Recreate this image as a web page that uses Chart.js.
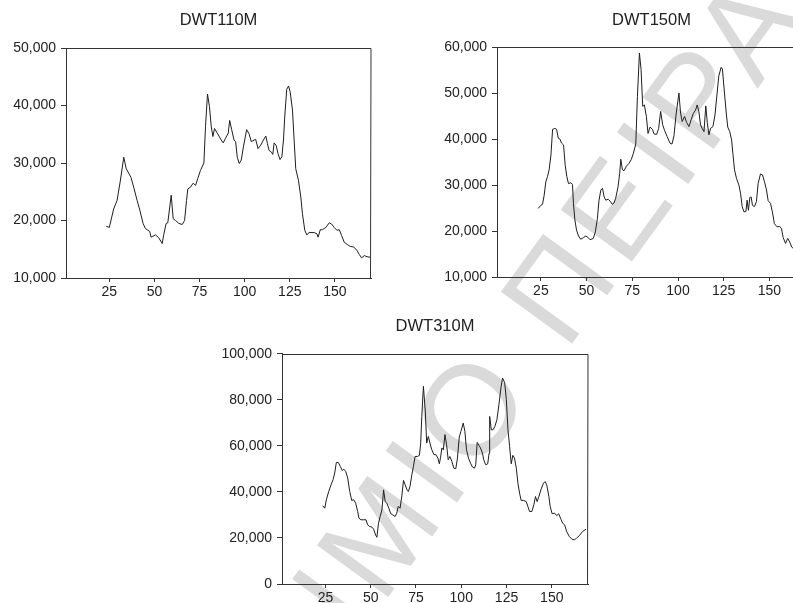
<!DOCTYPE html>
<html>
<head>
<meta charset="utf-8">
<script src="https://cdn.jsdelivr.net/npm/chart.js@4.4.1/dist/chart.umd.min.js"></script>
<style>
  html, body { margin: 0; padding: 0; background: #fff; }
  body { width: 793px; height: 603px; position: relative; overflow: hidden; }
  canvas { position: absolute; }
  #c1 { left: 0; top: 0; }
  #c2 { left: 400px; top: 0; }
  #c3 { left: 200px; top: 300px; }
  #wm { position: absolute; left: 472px; top: 405px; width: 0; height: 0; transform: rotate(-54deg); }
  #wmText { position: absolute; white-space: nowrap; font-family: 'Liberation Sans', Arial, sans-serif;
            font-size: 128px; letter-spacing: 9px; line-height: 1; color: #dadada; top: -63px; }
</style>
</head>
<body>
<div id="wm"><div id="wmText"><span id="wmPre">ΠΑΝΕΠΙΣΤΗΜΙ</span><span id="wmO">Ο</span> ΠΕΙΡΑΙΩΣ</div></div>
<canvas id="c1" width="400" height="300"></canvas>
<canvas id="c2" width="420" height="300"></canvas>
<canvas id="c3" width="400" height="303"></canvas>
<script>
// observation index ticks shared by all three panels
const xTicks = [25, 50, 75, 100, 125, 150];

// DWT110M
const obs110 = [23.3, 25, 27.4, 29.3, 31, 33, 34.4, 37, 38.5, 40.4, 41.9, 43.7, 45, 47.4, 48.1, 50.6, 52.4, 54.3, 55.2, 56.5,
  57.4, 59.3, 60.4, 61.7, 63.5, 65.4, 66.7, 67.8, 68.5, 70, 71.5, 72.8, 74, 75.5, 77.4, 78.3, 79.4, 80.5, 81.5, 82.4,
  83.3, 84.8, 87, 88.1, 89.4, 90.9, 91.7, 92.8, 94.1, 95, 95.9, 97, 98.1, 99.3, 101.1, 102.4, 103.7, 105.2, 106.1, 107.4,
  108.9, 110.4, 111.7, 112.6, 113.5, 114.8, 115.6, 116.3, 117.4, 118.5, 119.6, 120.6, 121.5, 122.2, 123.3, 124.3, 125.2, 126.5, 127.4, 128.3,
  129.8, 131.1, 132, 133.3, 134.4, 135.7, 138.5, 140, 140.7, 141.9, 143.1, 145, 146.9, 148.1, 149.6, 151.1, 152.4, 153.7, 155.2, 157,
  158.5, 160.4, 162.2, 163.5, 164.8, 166.3, 167.8, 169.6];
const dwt110 = [19000, 18800, 22000, 23500, 26700, 31000, 29000, 27500, 25800, 23500, 21800, 19500, 18600, 18100, 17100, 17500, 17000, 16000, 17600, 19500,
  19600, 24400, 20300, 20000, 19500, 19300, 20000, 23500, 25500, 25800, 26500, 26100, 27300, 28700, 30000, 36300, 42000, 39800, 36300, 34600,
  36000, 35200, 34000, 33500, 34300, 35200, 37400, 35800, 34000, 33700, 31000, 29900, 30500, 32800, 35800, 35100, 33700, 34000, 34100, 32500,
  33100, 34000, 34700, 33400, 32200, 31900, 31500, 33500, 33100, 31600, 30600, 31100, 34000, 38000, 42800, 43400, 42400, 39200, 34000, 29000,
  27000, 24100, 21200, 18300, 17500, 17900, 17900, 17700, 17100, 18400, 18400, 18800, 19600, 19400, 18800, 18300, 18400, 17400, 16200, 15800,
  15500, 15400, 14800, 14100, 13500, 13900, 13700, 13600];
const yTicks110 = [10000, 20000, 30000, 40000, 50000];

// DWT150M
const obs150 = [23.5, 25, 25.9, 26.8, 27.7, 28.6, 29.5, 30.5, 31.4, 32.6, 33.6, 34.5, 35.4, 36.3, 37.4, 38.3, 39.2, 40.1, 41.4, 42.3,
  42.8, 43.6, 44.5, 45.6, 46.8, 48.3, 49.6, 50.8, 51.9, 53.7, 54.8, 55.9, 56.8, 57.8, 58.7, 59.6, 60.5, 61.8, 62.8, 64.1,
  65, 65.9, 67.2, 68.1, 68.7, 69.6, 70.5, 71.8, 73.2, 74.5, 75.6, 76.9, 77.8, 78.9, 79.8, 80.7, 81.6, 82.7, 83.6, 84.7,
  86, 86.9, 88.3, 89.4, 90.5, 91.6, 92.7, 94.1, 95.6, 96.7, 97.8, 98.9, 100.5, 101.4, 102.3, 103.6, 104.7, 106, 107.2, 108.3,
  109.6, 110.5, 111.4, 112.3, 113.2, 114.2, 115.2, 116, 116.9, 117.8, 119.1, 120.2, 121.4, 122.3, 123.6, 124.3, 125.4, 126.5, 127.2, 128.3,
  129.3, 130, 130.9, 132, 133.3, 134.2, 135.1, 136, 137.1, 137.8, 138.5, 139.3, 140, 140.7, 141.8, 142.9, 143.8, 145.1, 146.2, 147.3,
  148.4, 149.3, 150.6, 151.6, 152.7, 154.2, 155.6, 156.6, 157.5, 158.8, 160, 161.1, 162.2, 163.1];
const dwt150 = [24900, 25600, 25800, 27800, 30700, 31800, 33300, 36500, 42100, 42300, 42100, 40200, 40000, 39100, 38700, 34300, 31800, 30300, 30500, 30100,
  26000, 22400, 20200, 18900, 18200, 18600, 18900, 18600, 18100, 18400, 19800, 22700, 26700, 28900, 29300, 27400, 26700, 26900, 26500, 25800,
  26100, 27100, 29600, 32500, 35600, 33300, 33100, 34100, 34700, 35600, 36900, 38900, 49200, 58700, 55100, 47100, 47400, 44900, 41200, 42600,
  42100, 41100, 41000, 42300, 46000, 43100, 41800, 40500, 39100, 38900, 40700, 45200, 50000, 45600, 43800, 44900, 43600, 42700, 44200, 45500,
  46300, 47400, 46000, 43100, 42300, 41600, 47200, 43600, 40900, 42300, 42700, 45200, 50000, 53700, 55600, 55200, 50000, 45200, 42600, 41600,
  39800, 36900, 33300, 31400, 30000, 28200, 25300, 24200, 24200, 26700, 24500, 27300, 27400, 25600, 25300, 26400, 30300, 32400, 32200, 30700,
  28900, 26600, 26000, 24200, 21600, 20900, 21000, 20500, 18600, 17300, 18400, 17600, 16500, 16200];
const yTicks150 = [10000, 20000, 30000, 40000, 50000, 60000];

// DWT310M
const obs310 = [23.5, 24.6, 25.5, 26.8, 28.1, 29.2, 30.1, 31, 32.1, 33.2, 34.3, 35.1, 36.2, 37.3, 38.4, 39.5, 40.6, 41.7, 42.8, 43.5,
  44.6, 46.1, 47.4, 48.3, 49.4, 50.7, 51.6, 52.7, 53.4, 54.3, 55.2, 56.2, 57.1, 58, 58.9, 60, 61.1, 62.2, 63.5, 64.4,
  65.2, 66.2, 67.2, 68.1, 69, 69.9, 70.8, 71.7, 72.7, 73.6, 74.5, 75.8, 76.9, 77.6, 78.2, 79.1, 80.2, 80.9, 81.8, 82.7,
  83.6, 84.9, 86, 87.1, 87.9, 88.6, 89.3, 90.1, 91, 91.9, 92.8, 93.7, 94.8, 95.9, 97, 97.9, 98.9, 99.8, 101.1, 102,
  102.9, 104, 105.1, 106.2, 107.3, 108, 108.8, 109.9, 110.6, 111.7, 112.4, 113.5, 114.6, 115.4, 115.7, 116.6, 117.6, 118.6, 119.7, 120.8,
  121.9, 122.8, 124, 124.9, 125.8, 126.7, 127.6, 128.5, 129.4, 130.4, 131.3, 132.2, 133.1, 134.4, 135.9, 136.8, 137.7, 139, 140.1, 141,
  141.9, 142.9, 144.1, 145.4, 146.3, 147.2, 148.4, 149.1, 150.2, 151.5, 152.7, 153.8, 155.1, 156, 157.1, 158.2, 159.7, 161.2, 162.5, 163.7,
  165.2, 167, 168.9];
const dwt310 = [34000, 32900, 36600, 40200, 43100, 45300, 48200, 52800, 52800, 51100, 49300, 49900, 48900, 46000, 40200, 36300, 36600, 35100, 31500, 28600,
  27900, 27900, 27900, 25700, 25000, 24700, 23800, 21300, 20300, 26400, 29300, 32200, 40900, 35800, 35100, 32900, 30500, 30000, 29300, 30800,
  33700, 32900, 38300, 45000, 43100, 41200, 40200, 42400, 47400, 51100, 55400, 55400, 55900, 61200, 72800, 85900, 74300, 61200, 64100, 61200,
  58600, 56200, 56200, 54700, 52200, 55100, 59100, 58300, 64900, 60500, 54000, 55400, 53300, 50300, 50100, 54700, 63800, 66300, 69900, 66300,
  58300, 54700, 52500, 50800, 50300, 51800, 61500, 60100, 59100, 56900, 54000, 51800, 52200, 56900, 72800, 67000, 67000, 68500, 71400, 77900,
  85200, 89500, 87400, 80100, 67000, 59800, 52200, 55900, 54700, 50300, 43800, 39500, 36300, 36300, 35800, 33700, 31500, 31500, 34400, 38000,
  35800, 38000, 41200, 43800, 44500, 43100, 38000, 33700, 30500, 30800, 29700, 30500, 28100, 26400, 25700, 22800, 20600, 19400, 19200, 19900,
  21000, 22800, 23800];
const yTicks310 = [0, 20000, 40000, 60000, 80000, 100000];

const textColor = '#222';
const axisColor = '#333';
const tickFont = { family: "'Liberation Sans', Arial, sans-serif", size: 14 };

// draws the top and right sides of the plot frame
const framePlugin = {
  id: 'frame',
  afterDraw(chart) {
    const a = chart.chartArea;
    const ctx = chart.ctx;
    ctx.save();
    ctx.strokeStyle = axisColor;
    ctx.lineWidth = 1;
    ctx.beginPath();
    ctx.moveTo(Math.round(a.left), Math.round(a.top) + 0.5);
    ctx.lineTo(Math.round(a.right), Math.round(a.top) + 0.5);
    ctx.lineTo(Math.round(a.right) - 0.5, Math.round(a.bottom));
    ctx.stroke();
    ctx.restore();
  }
};

function makeChart(id, title, xs, ys, yTicks, box) {
  const ctx = document.getElementById(id).getContext('2d');
  return new Chart(ctx, {
    type: 'line',
    data: {
      datasets: [{
        data: xs.map((x, i) => ({ x: x, y: ys[i] })),
        borderColor: '#1e1e1e',
        borderWidth: 1,
        pointRadius: 0,
        tension: 0,
        fill: false
      }]
    },
    options: {
      responsive: false,
      animation: false,
      layout: { padding: { left: 0, right: box.right, top: 0, bottom: 0 } },
      plugins: {
        legend: { display: false },
        tooltip: { enabled: false },
        title: {
          display: true,
          fullSize: false,
          text: title,
          color: textColor,
          font: { family: "'Liberation Sans', Arial, sans-serif", size: 16.5, weight: 'normal' },
          padding: { top: box.titleTop, bottom: box.titleBottom }
        }
      },
      scales: {
        x: {
          type: 'linear',
          min: 1,
          max: 170,
          afterBuildTicks: s => { s.ticks = xTicks.map(v => ({ value: v })); },
          afterFit: s => { s.height = box.xh; },
          grid: { drawOnChartArea: false, drawTicks: true, tickLength: 4, tickColor: axisColor },
          border: { display: true, color: axisColor, width: 1 },
          ticks: { font: tickFont, color: textColor, padding: 2, maxRotation: 0, autoSkip: false, callback: v => v }
        },
        y: {
          type: 'linear',
          min: yTicks[0],
          max: yTicks[yTicks.length - 1],
          afterBuildTicks: s => { s.ticks = yTicks.map(v => ({ value: v })); },
          afterFit: s => { s.width = box.yw; },
          grid: { drawOnChartArea: false, drawTicks: true, tickLength: 5, tickColor: axisColor },
          border: { display: true, color: axisColor, width: 1 },
          ticks: { font: tickFont, color: textColor, padding: 5, callback: v => v.toLocaleString('en-US') }
        }
      }
    },
    plugins: [framePlugin]
  });
}

makeChart('c1', 'DWT110M', obs110, dwt110, yTicks110, { yw: 66, xh: 22, right: 29, titleTop: 11, titleBottom: 17.2 });
makeChart('c2', 'DWT150M', obs150, dwt150, yTicks150, { yw: 97, xh: 23, right: 14, titleTop: 11, titleBottom: 16.2 });
makeChart('c3', 'DWT310M', obs310, dwt310, yTicks310, { yw: 82, xh: 19, right: 12, titleTop: 17, titleBottom: 17 });

// watermark: centre of the "Ο" sits on the anchor point
const pre = document.getElementById('wmPre');
const o = document.getElementById('wmO');
document.getElementById('wmText').style.left = -(pre.offsetWidth + o.offsetWidth / 2) + 'px';
</script>
</body>
</html>
